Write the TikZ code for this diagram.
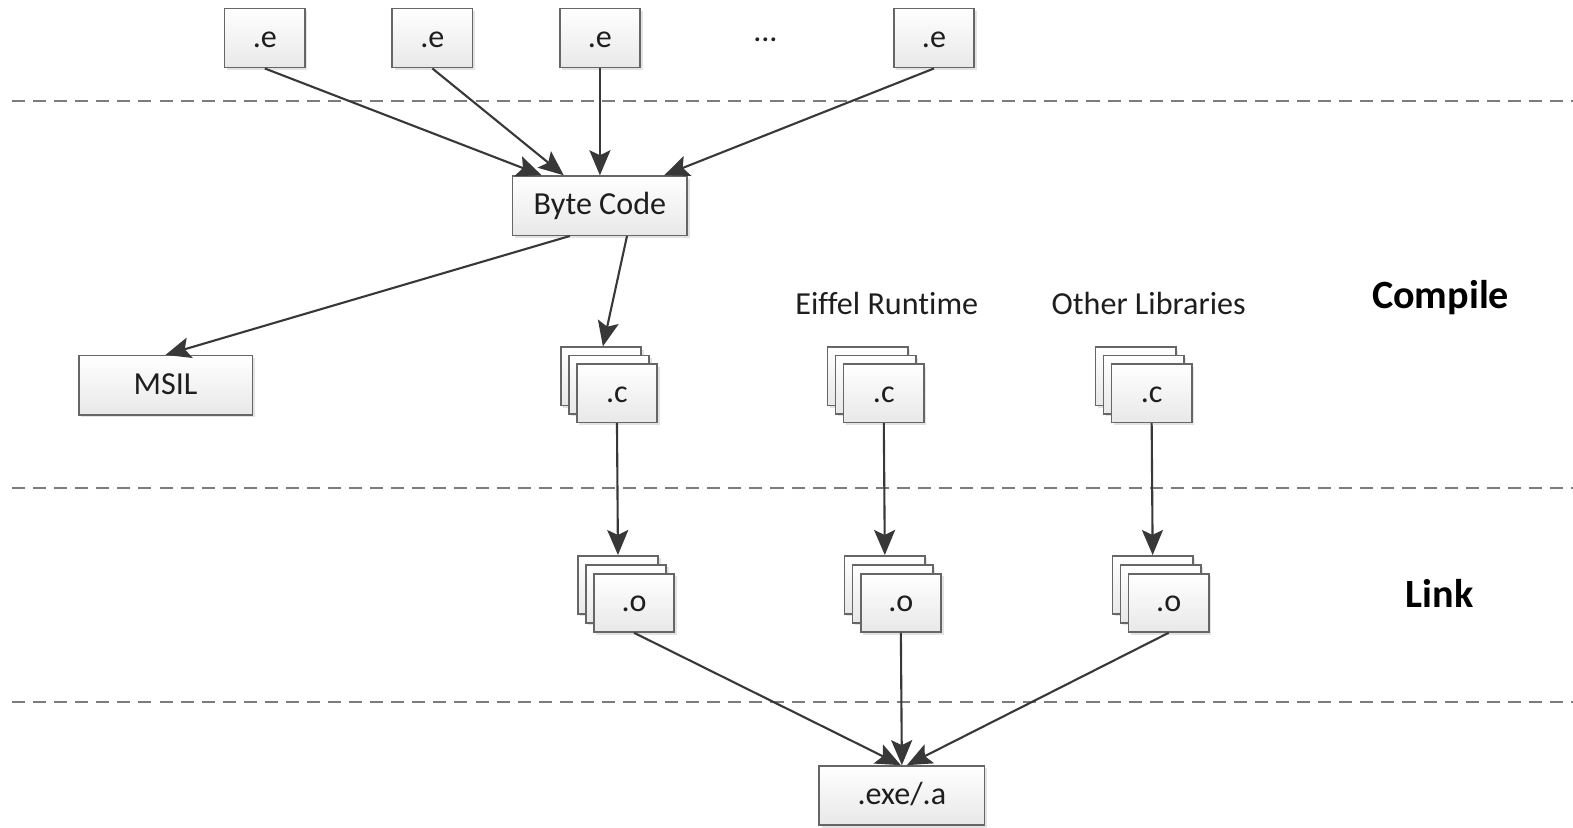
\documentclass[tikz,border=0pt]{standalone}
\usepackage{fontspec}
\setmainfont{Carlito}[Ligatures=NoCommon]
\usetikzlibrary{arrows.meta,shadows,calc}
\definecolor{boxline}{HTML}{666666}
\definecolor{arrowc}{HTML}{383838}
\definecolor{dashc}{HTML}{7C7C7C}
\definecolor{txt}{HTML}{1E1E1E}
\tikzset{
  file/.style={draw=boxline, line width=1.5pt, top color=white, bottom color=black!9,
    minimum width=80pt, minimum height=59pt, inner sep=0pt,
    font=\fontsize{32}{36}\selectfont, text=txt, text height=24pt, text depth=6pt,
    drop shadow={shadow xshift=2.5pt, shadow yshift=-2.5pt, opacity=0.22}},
  wide/.style={file, minimum width=#1},
  arr/.style={draw=arrowc, line width=2.1pt,
    -{Stealth[length=25pt, width=21pt, inset=5pt]}},
  sep/.style={draw=dashc, line width=2pt, dash pattern=on 13pt off 8pt},
  lbl/.style={font=\fontsize{32}{36}\selectfont, text=txt},
  phase/.style={font=\fontsize{40}{44}\selectfont\bfseries, text=black}
}
% a pile of three files: name, x, y, label, vertical step
\newcommand\filestack[5]{%
  \node[file, minimum height=58pt] (#1b) at (#2-16, #3-#5) {};
  \node[file, minimum height=58pt] (#1m) at (#2-8, #3-#5/2) {};
  \node[file, minimum height=58pt] (#1) at (#2, #3) {#4};
}
\begin{document}
\begin{tikzpicture}[x=1pt, y=-1pt]
\useasboundingbox (0,0) rectangle (1568,825);

% phase separators
\draw[sep] (12,101) coordinate (s1a) -- (1568,101) coordinate (s1b);
\draw[sep] (12,486) coordinate (s2a) -- (1568,486) coordinate (s2b);
\draw[sep] (12,700) coordinate (s3a) -- (1568,700) coordinate (s3b);

% Eiffel sources
\node[file] (e1) at (264,38) {.e};
\node[file] (e2) at (431,38) {.e};
\node[file] (e3) at (598,38) {.e};
\node[lbl]  (dots) at (763,40) {...};
\node[file] (e5) at (931,38) {.e};

\node[wide=174pt] (bc) at (598,205) {Byte Code};
\node[wide=173pt] (msil) at (165,384) {MSIL};

\node[lbl] (rt) at (884,303) {Eiffel Runtime};
\node[lbl] (libs) at (1145,303) {Other Libraries};
\node[phase] (compile) at (1436,297) {Compile};
\node[phase] (link) at (1435,592) {Link};

% C files and object files
\filestack{c1}{615}{392}{.c}{17}
\filestack{c2}{881}{392}{.c}{17}
\filestack{c3}{1148}{392}{.c}{17}
\filestack{o1}{632}{601}{.o}{18}
\filestack{o2}{898}{601}{.o}{18}
\filestack{o3}{1165}{601}{.o}{18}

\node[wide=165pt] (exe) at (899,793) {.exe/.a};

% compilation flow
\draw[arr] (e1.south) -- ($(bc.north)+(-58,0)$);
\draw[arr] (e2.south) -- ($(bc.north)+(-36,0)$);
\draw[arr] (e3.south) -- (bc.north);
\draw[arr] (e5.south) -- ($(bc.north)+(64,0)$);
\draw[arr] ($(bc.south)+(-30,0)$) -- (msil.north);
\draw[arr] ($(bc.south)+(27,0)$) -- ($(c1b.north)+(2,0)$);

\draw[arr] (c1.south) -- (o1b.north);
\draw[arr] (c2.south) -- (o2b.north);
\draw[arr] (c3.south) -- (o3b.north);

% linking
\draw[arr] (o1.south) -- ($(exe.north)+(-1,0)$);
\draw[arr] (o2.south) -- ($(exe.north)+(0,0)$);
\draw[arr] (o3.south) -- ($(exe.north)+(5,0)$);
\end{tikzpicture}
\end{document}
